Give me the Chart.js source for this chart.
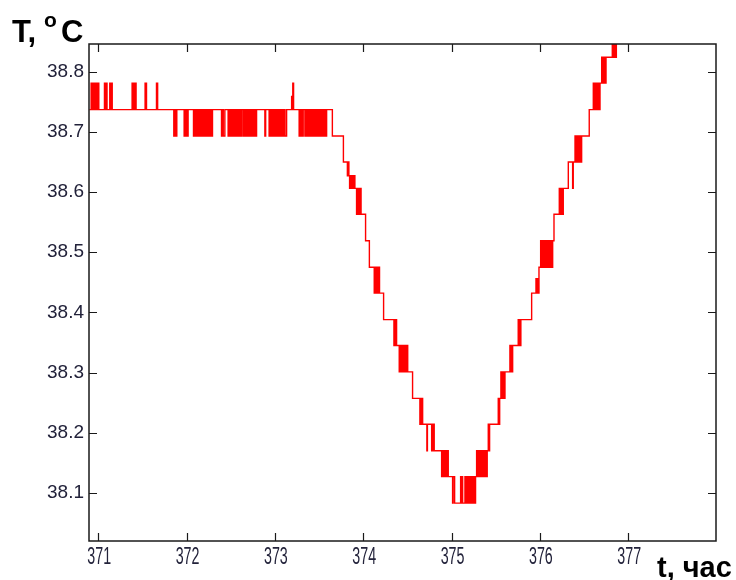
<!DOCTYPE html>
<html>
<head>
<meta charset="utf-8">
<script src="https://cdn.jsdelivr.net/npm/chart.js@4"></script>
<style>
  body { margin: 0; background: #fff; }
  canvas { display: block; }
</style>
</head>
<body>
<canvas id="grafica" width="736" height="580"></canvas>
<script>
// Температура: время (ч) и значение (°C)
const hours = [
  370.900, 370.920, 370.931, 370.939, 370.950, 370.957, 370.968, 370.975, 370.986, 370.993, 371.007,
  371.071, 371.082, 371.088, 371.100, 371.131, 371.143, 371.148, 371.159,
  371.384, 371.394, 371.400, 371.410, 371.417, 371.429, 371.531, 371.547, 371.660, 371.673,
  371.856, 371.867, 371.874, 371.890, 371.973, 371.981, 371.992, 371.999, 372.009, 372.018,
  372.079, 372.088, 372.096, 372.105, 372.112, 372.122, 372.128, 372.139, 372.145, 372.155, 372.162, 372.171, 372.179, 372.188, 372.196, 372.207, 372.213, 372.224, 372.230, 372.241, 372.247, 372.258, 372.264, 372.275, 372.281, 372.294,
  372.396, 372.405, 372.416, 372.434,
  372.471, 372.478, 372.486, 372.494, 372.500, 372.508, 372.515, 372.523, 372.530, 372.538, 372.545, 372.553, 372.560, 372.568, 372.575, 372.583, 372.590, 372.598, 372.605, 372.613, 372.620, 372.628,
  372.645, 372.653, 372.660, 372.668, 372.675, 372.683, 372.690, 372.698, 372.705, 372.713, 372.720, 372.728, 372.735, 372.745, 372.757, 372.765, 372.772, 372.780, 372.786, 372.793,
  372.887, 372.896,
  372.935, 372.943, 372.950, 372.958, 372.965, 372.973, 372.980, 372.988, 372.995, 373.003, 373.010, 373.018, 373.025, 373.033,
  373.040, 373.048, 373.055, 373.063, 373.070, 373.078, 373.085, 373.093, 373.100, 373.108, 373.115, 373.133,
  373.190, 373.198, 373.203, 373.212,
  373.275, 373.284, 373.292, 373.300, 373.308, 373.321,
  373.340, 373.349, 373.356, 373.364, 373.378, 373.386, 373.400, 373.408, 373.422, 373.430, 373.445, 373.453,
  373.468, 373.476, 373.490, 373.498, 373.513, 373.521, 373.535, 373.543, 373.550, 373.558, 373.565, 373.573, 373.578, 373.586,
  373.651, 373.776,
  373.821, 373.827, 373.838, 373.846, 373.854, 373.861, 373.869, 373.877, 373.883, 373.891, 373.899, 373.906,
  373.925, 373.934, 373.942, 373.951, 373.959, 373.968, 373.976,
  374.027, 374.070,
  374.125, 374.133, 374.140, 374.148, 374.155, 374.163, 374.170, 374.178, 374.185,
  374.231,
  374.348, 374.356, 374.363, 374.371, 374.378,
  374.408, 374.416, 374.423, 374.431, 374.438, 374.446, 374.453, 374.461, 374.468, 374.476, 374.484, 374.498, 374.504,
  374.559,
  374.642, 374.650, 374.657, 374.665, 374.673,
  374.721, 374.727, 374.775, 374.783, 374.789, 374.797, 374.804,
  374.888, 374.896, 374.903, 374.911, 374.918, 374.926, 374.933, 374.941, 374.948, 374.956, 374.963,
  375.012, 375.018, 375.035,
  375.103, 375.111, 375.118, 375.126,
  375.152, 375.159, 375.167, 375.174, 375.182, 375.189, 375.197, 375.204, 375.212, 375.219, 375.227, 375.234, 375.242, 375.249, 375.257, 375.264, 375.272,
  375.284, 375.291, 375.299, 375.306, 375.314, 375.321, 375.329, 375.336, 375.344, 375.351, 375.359, 375.366, 375.374, 375.381, 375.389, 375.396, 375.404,
  375.416, 375.423, 375.431,
  375.529, 375.537, 375.545,
  375.559, 375.567, 375.575, 375.582, 375.590, 375.597, 375.605,
  375.661, 375.669, 375.676, 375.684, 375.692,
  375.755, 375.763, 375.770, 375.778, 375.785,
  375.907, 375.956, 375.963, 375.970, 375.976, 375.990,
  376.009, 376.017, 376.024, 376.032, 376.039, 376.047, 376.054, 376.062, 376.069, 376.077, 376.084, 376.092, 376.099, 376.107, 376.114, 376.122, 376.129, 376.137, 376.145,
  376.160,
  376.220, 376.228, 376.235, 376.243, 376.250, 376.258, 376.265,
  376.322, 376.371, 376.378,
  376.398, 376.405, 376.413, 376.420, 376.428, 376.435, 376.443, 376.450, 376.458, 376.465, 376.473,
  376.559,
  376.605, 376.613, 376.620, 376.628, 376.635, 376.643, 376.650, 376.658, 376.665, 376.673, 376.681,
  376.700, 376.708, 376.715, 376.723, 376.730, 376.738, 376.749,
  376.820, 376.828, 376.835, 376.843, 376.850, 376.858, 376.866, 376.877
];

const tempC = [
  38.737, 38.781, 38.737, 38.781, 38.737, 38.781, 38.737, 38.781, 38.737, 38.781, 38.737,
  38.781, 38.737, 38.781, 38.737, 38.781, 38.737, 38.781, 38.737,
  38.781, 38.737, 38.781, 38.737, 38.781, 38.737, 38.781, 38.737, 38.781, 38.737,
  38.693, 38.737, 38.693, 38.737, 38.693, 38.737, 38.693, 38.737, 38.693, 38.737,
  38.693, 38.737, 38.693, 38.737, 38.693, 38.737, 38.693, 38.737, 38.693, 38.737, 38.693, 38.737, 38.693, 38.737, 38.693, 38.737, 38.693, 38.737, 38.693, 38.737, 38.693, 38.737, 38.693, 38.737, 38.693, 38.737,
  38.693, 38.737, 38.693, 38.737,
  38.693, 38.737, 38.693, 38.737, 38.693, 38.737, 38.693, 38.737, 38.693, 38.737, 38.693, 38.737, 38.693, 38.737, 38.693, 38.737, 38.693, 38.737, 38.693, 38.737, 38.693, 38.737,
  38.693, 38.737, 38.693, 38.737, 38.693, 38.737, 38.693, 38.737, 38.693, 38.737, 38.693, 38.737, 38.693, 38.737, 38.693, 38.737, 38.693, 38.737, 38.693, 38.737,
  38.693, 38.737,
  38.693, 38.737, 38.693, 38.737, 38.693, 38.737, 38.693, 38.737, 38.693, 38.737, 38.693, 38.737, 38.693, 38.737,
  38.693, 38.737, 38.693, 38.737, 38.693, 38.737, 38.693, 38.737, 38.693, 38.737, 38.693, 38.737,
  38.759, 38.737, 38.781, 38.737,
  38.693, 38.737, 38.693, 38.737, 38.693, 38.737,
  38.693, 38.737, 38.693, 38.737, 38.693, 38.737, 38.693, 38.737, 38.693, 38.737, 38.693, 38.737,
  38.693, 38.737, 38.693, 38.737, 38.693, 38.737, 38.693, 38.737, 38.693, 38.737, 38.693, 38.737, 38.693, 38.737,
  38.693, 38.650,
  38.627, 38.650, 38.627, 38.606, 38.627, 38.606, 38.627, 38.606, 38.627, 38.606, 38.627, 38.606,
  38.563, 38.606, 38.563, 38.606, 38.563, 38.606, 38.563,
  38.519, 38.475,
  38.432, 38.475, 38.432, 38.475, 38.432, 38.475, 38.432, 38.475, 38.432,
  38.388,
  38.345, 38.388, 38.345, 38.388, 38.345,
  38.301, 38.345, 38.301, 38.345, 38.301, 38.345, 38.301, 38.345, 38.301, 38.345, 38.301, 38.345, 38.301,
  38.257,
  38.214, 38.257, 38.214, 38.257, 38.214,
  38.170, 38.214, 38.170, 38.214, 38.170, 38.214, 38.170,
  38.127, 38.170, 38.127, 38.170, 38.127, 38.170, 38.127, 38.170, 38.127, 38.170, 38.127,
  38.083, 38.127, 38.083,
  38.127, 38.083, 38.127, 38.083,
  38.127, 38.083, 38.127, 38.083, 38.127, 38.083, 38.127, 38.083, 38.127, 38.083, 38.127, 38.083, 38.127, 38.083, 38.127, 38.083, 38.127,
  38.170, 38.127, 38.170, 38.127, 38.170, 38.127, 38.170, 38.127, 38.170, 38.127, 38.170, 38.127, 38.170, 38.127, 38.170, 38.127, 38.170,
  38.214, 38.170, 38.214,
  38.257, 38.214, 38.257,
  38.301, 38.257, 38.301, 38.257, 38.301, 38.257, 38.301,
  38.345, 38.301, 38.345, 38.301, 38.345,
  38.388, 38.345, 38.388, 38.345, 38.388,
  38.432, 38.456, 38.432, 38.456, 38.432, 38.475,
  38.519, 38.475, 38.519, 38.475, 38.519, 38.475, 38.519, 38.475, 38.519, 38.475, 38.519, 38.475, 38.519, 38.475, 38.519, 38.475, 38.519, 38.475, 38.519,
  38.563,
  38.606, 38.563, 38.606, 38.563, 38.606, 38.563, 38.606,
  38.650, 38.606, 38.650,
  38.693, 38.650, 38.693, 38.650, 38.693, 38.650, 38.693, 38.650, 38.693, 38.650, 38.693,
  38.737,
  38.781, 38.737, 38.781, 38.737, 38.781, 38.737, 38.781, 38.737, 38.781, 38.737, 38.781,
  38.824, 38.781, 38.824, 38.781, 38.824, 38.781, 38.824,
  38.868, 38.824, 38.868, 38.824, 38.868, 38.824, 38.868, 38.868
];

const xTicks = [371, 372, 373, 374, 375, 376, 377];
const yTicks = [38.1, 38.2, 38.3, 38.4, 38.5, 38.6, 38.7, 38.8];

if (hours.length !== tempC.length) {
  console.error('hours/tempC length mismatch', hours.length, tempC.length);
}

// Рамка, внутренние засечки и подписи осей
const ramka = {
  id: 'ramka',
  afterDraw(chart) {
    const { ctx, chartArea: a, scales } = chart;
    ctx.save();
    ctx.strokeStyle = '#1a1a1a';
    ctx.lineWidth = 1.5;
    ctx.strokeRect(a.left, a.top, a.right - a.left, a.bottom - a.top);

    ctx.beginPath();
    xTicks.forEach(v => {
      const px = Math.round(scales.x.getPixelForValue(v)) + 0.5;
      ctx.moveTo(px, a.bottom); ctx.lineTo(px, a.bottom - 8);
      ctx.moveTo(px, a.top); ctx.lineTo(px, a.top + 8);
    });
    yTicks.forEach(v => {
      const py = Math.round(scales.y.getPixelForValue(v)) + 0.5;
      ctx.moveTo(a.left, py); ctx.lineTo(a.left + 8, py);
      ctx.moveTo(a.right, py); ctx.lineTo(a.right - 8, py);
    });
    ctx.lineWidth = 1.2;
    ctx.stroke();

    // подписи оси времени (узкий шрифт)
    ctx.fillStyle = '#22223a';
    ctx.font = '23px "Liberation Sans", Arial, sans-serif';
    ctx.textAlign = 'center';
    ctx.textBaseline = 'top';
    xTicks.forEach(v => {
      const px = scales.x.getPixelForValue(v);
      ctx.save();
      ctx.translate(px + 1, a.bottom + 5);
      ctx.scale(0.62, 1);
      ctx.fillText(String(v), 0, 0);
      ctx.restore();
    });

    ctx.fillStyle = '#000';
    ctx.textBaseline = 'alphabetic';
    ctx.textAlign = 'left';
    ctx.font = 'bold 31px "Liberation Sans", Arial, sans-serif';
    ctx.fillText('T,', 12, 42);
    ctx.fillText('C', 61, 42);
    ctx.font = 'bold 21px "Liberation Sans", Arial, sans-serif';
    ctx.fillText('o', 44, 27);
    ctx.font = 'bold 29px "Liberation Sans", Arial, sans-serif';
    ctx.fillText('t, час', 657, 577);
    ctx.restore();
  }
};

const canvas = document.getElementById('grafica');
new Chart(canvas.getContext('2d'), {
  type: 'line',
  data: {
    datasets: [{
      data: hours.map((t, i) => ({ x: t, y: tempC[i] })),
      borderColor: '#ff0000',
      borderWidth: 1.4,
      pointRadius: 0,
      stepped: true,
      fill: false,
      clip: 0
    }]
  },
  options: {
    responsive: false,
    animation: false,
    devicePixelRatio: 1,
    layout: { padding: { top: 44, right: 20, left: 0, bottom: 0 } },
    plugins: {
      legend: { display: false },
      tooltip: { enabled: false }
    },
    scales: {
      x: {
        type: 'linear',
        min: 370.896,
        max: 377.994,
        afterBuildTicks: s => { s.ticks = xTicks.map(v => ({ value: v })); },
        afterFit: s => { s.height = 39; },
        grid: { display: false, drawTicks: false },
        border: { display: false },
        ticks: { display: false }
      },
      y: {
        type: 'linear',
        min: 38.02,
        max: 38.846,
        afterBuildTicks: s => { s.ticks = yTicks.map(v => ({ value: v })); },
        afterFit: s => { s.width = 89; },
        grid: { display: false, drawTicks: false },
        border: { display: false },
        ticks: {
          padding: 5,
          color: '#22223a',
          font: { family: '"Liberation Sans", Arial', size: 19 },
          callback: v => v.toFixed(1)
        }
      }
    }
  },
  plugins: [ramka]
});
</script>
</body>
</html>
